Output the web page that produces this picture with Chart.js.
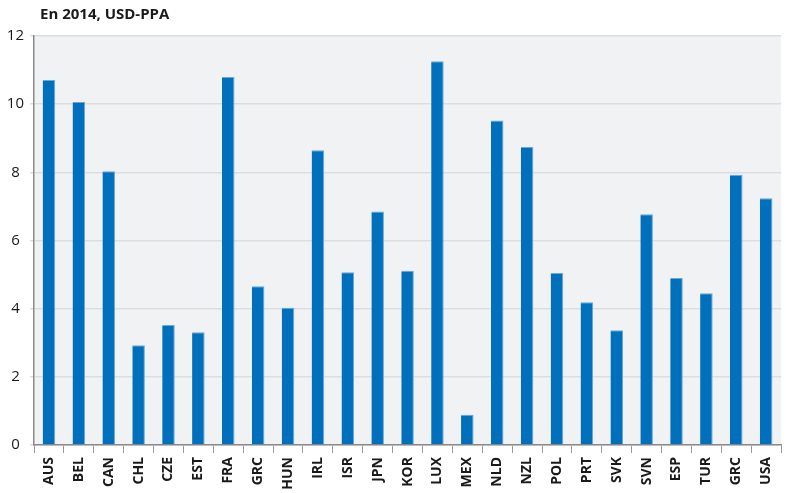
<!DOCTYPE html>
<html>
<head>
<meta charset="utf-8">
<script src="https://cdn.jsdelivr.net/npm/chart.js@4/dist/chart.umd.min.js"></script>
<style>
    html, body { margin: 0; padding: 0; background: #fff; overflow: hidden; }
    #chart { display: block; }
</style>
</head>
<body>
<canvas id="chart" width="787" height="493"></canvas>
<script>
// Data
const titleText = 'En 2014, USD-PPA';
const countries = ['AUS', 'BEL', 'CAN', 'CHL', 'CZE', 'EST', 'FRA', 'GRC', 'HUN', 'IRL', 'ISR', 'JPN', 'KOR',
    'LUX', 'MEX', 'NLD', 'NZL', 'POL', 'PRT', 'SVK', 'SVN', 'ESP', 'TUR', 'GRC', 'USA'];
const values = [10.71, 10.06, 8.03, 2.93, 3.52, 3.31, 10.80, 4.66, 4.03, 8.65, 5.07, 6.85, 5.11,
    11.26, 0.89, 9.52, 8.74, 5.05, 4.19, 3.37, 6.77, 4.90, 4.45, 7.93, 7.24];
const yMin = 0;
const yMax = 12;
const yStep = 2;

const fontFamily = '"Open Sans", "DejaVu Sans", sans-serif';

// plot background + title
const plotBg = {
    id: 'plotBg',
    beforeDraw(chart) {
        const { ctx, chartArea } = chart;
        ctx.save();
        ctx.fillStyle = '#f0f2f4';
        ctx.fillRect(chartArea.left, chartArea.top, chartArea.right - chartArea.left, chartArea.bottom - chartArea.top);
        ctx.restore();
    },
    afterDraw(chart) {
        const { ctx } = chart;
        ctx.save();
        ctx.font = 'bold 15px ' + fontFamily;
        ctx.fillStyle = '#1a1a1a';
        ctx.textBaseline = 'alphabetic';
        ctx.fillText(titleText, 40, 19);
        ctx.restore();
    }
};

const ctx = document.getElementById('chart').getContext('2d');
new Chart(ctx, {
    type: 'bar',
    data: {
        labels: countries,
        datasets: [{
            data: values,
            backgroundColor: '#0070bc',
            borderColor: 'rgba(90, 160, 215, 0.9)',
            borderWidth: { top: 1, right: 1, left: 0, bottom: 0 },
            barPercentage: 0.42,
            categoryPercentage: 1
        }]
    },
    options: {
        responsive: false,
        animation: false,
        devicePixelRatio: 1,
        layout: { padding: { top: 36, right: 2, left: 0, bottom: 0 } },
        plugins: {
            legend: { display: false },
            tooltip: { enabled: false }
        },
        scales: {
            x: {
                grid: {
                    offset: true,
                    drawOnChartArea: false,
                    color: '#9a9a9a',
                    tickLength: 8
                },
                border: { color: '#8a8a8a', width: 1.5 },
                ticks: {
                    minRotation: 90,
                    maxRotation: 90,
                    autoSkip: false,
                    padding: 4,
                    color: '#1a1a1a',
                    font: { size: 14, weight: 'bold', family: fontFamily }
                },
                afterFit: (scale) => { scale.height = 48; }
            },
            y: {
                min: yMin,
                max: yMax,
                grid: {
                    color: '#dcdde0',
                    lineWidth: 1.5,
                    tickLength: 4
                },
                border: { color: '#8a8a8a', width: 1.5 },
                ticks: {
                    stepSize: yStep,
                    crossAlign: 'center',
                    padding: 6,
                    color: '#1a1a1a',
                    font: { size: 15, family: fontFamily }
                },
                afterFit: (scale) => { scale.width = 34; }
            }
        }
    },
    plugins: [plotBg]
});
</script>
</body>
</html>
